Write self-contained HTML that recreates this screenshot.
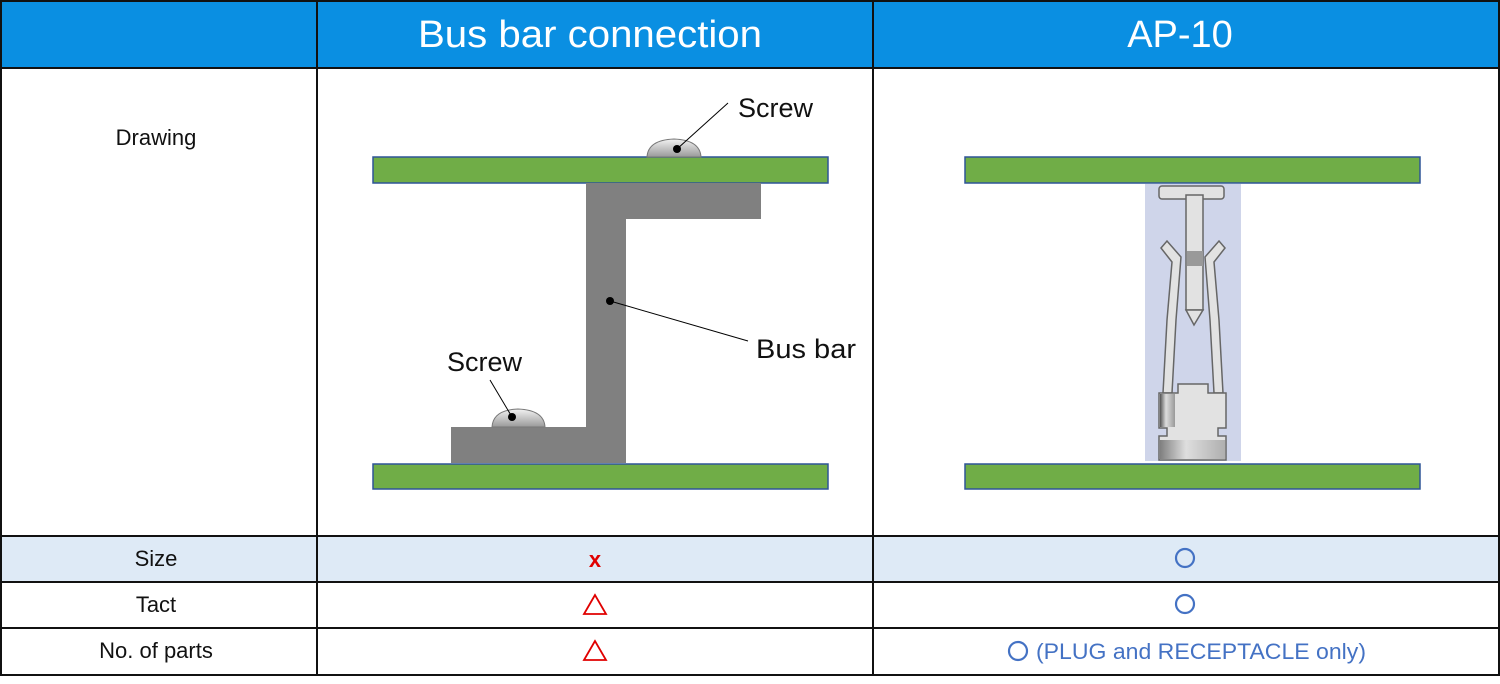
<!DOCTYPE html>
<html><head><meta charset="utf-8"><style>
body{margin:0;background:#fff}
svg{display:block}
text{font-family:"Liberation Sans","DejaVu Sans",sans-serif}
</style></head><body>
<svg width="1500" height="684" viewBox="0 0 1500 684" xmlns="http://www.w3.org/2000/svg">
<defs>
<linearGradient id="scr" x1="0" y1="0" x2="0" y2="1"><stop offset="0" stop-color="#f2f2f2"/><stop offset="1" stop-color="#9a9a9a"/></linearGradient>
<linearGradient id="met" x1="0" y1="0" x2="1" y2="0"><stop offset="0" stop-color="#555"/><stop offset="0.4" stop-color="#ddd"/><stop offset="1" stop-color="#999"/></linearGradient>
</defs>
<rect x="1" y="1" width="1498" height="67" fill="#0a8fe2"/>
<rect x="1" y="537" width="1498" height="45" fill="#deeaf6"/>
<g stroke="#111" stroke-width="2" fill="none">
<rect x="1" y="1" width="1498" height="674"/>
<line x1="317" y1="1" x2="317" y2="675"/>
<line x1="873" y1="1" x2="873" y2="675"/>
<line x1="1" y1="68" x2="1499" y2="68"/>
<line x1="1" y1="536" x2="1499" y2="536"/>
<line x1="1" y1="582" x2="1499" y2="582"/>
<line x1="1" y1="628" x2="1499" y2="628"/>
</g>
<text x="590" y="47" fill="#fff" font-size="38" text-anchor="middle" textLength="344" lengthAdjust="spacingAndGlyphs">Bus bar connection</text>
<text x="1180" y="47" fill="#fff" font-size="38" text-anchor="middle">AP-10</text>
<g font-size="22" fill="#111" text-anchor="middle">
<text x="156" y="145">Drawing</text>
<text x="156" y="566">Size</text>
<text x="156" y="612">Tact</text>
<text x="156" y="658">No. of parts</text>
</g>
<rect x="373" y="157" width="455" height="26" fill="#70ad47" stroke="#2f5597" stroke-width="1.5"/>
<rect x="373" y="464" width="455" height="25" fill="#70ad47" stroke="#2f5597" stroke-width="1.5"/>
<path d="M586 183H761V219H626V463H451V427H586Z" fill="#808080"/>
<path d="M647 157Q648 140 674 139Q700 140 701 157Z" fill="url(#scr)" stroke="#777"/>
<path d="M492 427Q493 410 518 409Q544 410 545 427Z" fill="url(#scr)" stroke="#777"/>
<circle cx="677" cy="149" r="4" fill="#000"/><line x1="677" y1="149" x2="728" y2="103" stroke="#000"/>
<circle cx="512" cy="417" r="4" fill="#000"/><line x1="512" y1="417" x2="490" y2="380" stroke="#000"/>
<circle cx="610" cy="301" r="4" fill="#000"/><line x1="610" y1="301" x2="748" y2="341" stroke="#000"/>
<g font-size="27" fill="#111">
<text x="738" y="117">Screw</text>
<text x="447" y="371">Screw</text>
<text x="756" y="358" textLength="100" lengthAdjust="spacingAndGlyphs">Bus bar</text>
</g>
<rect x="965" y="157" width="455" height="26" fill="#70ad47" stroke="#2f5597" stroke-width="1.5"/>
<rect x="965" y="464" width="455" height="25" fill="#70ad47" stroke="#2f5597" stroke-width="1.5"/>
<rect x="1145" y="184" width="96" height="277" fill="#cfd5ea"/>
<g fill="#e2e2e2" stroke="#666" stroke-width="1.5">
<rect x="1159" y="186" width="65" height="13" rx="3"/>
<rect x="1186" y="195" width="17" height="115"/>
<path d="M1186 310H1203L1194 325Z"/>
<path d="M1161 248L1167 241L1181 257L1176 320L1172 393H1163L1167 320L1172 262Z"/>
<path d="M1225 248L1219 241L1205 257L1210 320L1214 393H1223L1219 320L1214 262Z"/>
<path d="M1159 393H1178V384H1208V393H1226V428H1218V436H1226V460H1159V436H1167V428H1159Z"/>
</g>
<rect x="1187" y="251" width="16" height="15" fill="#999"/>
<rect x="1160" y="394" width="15" height="33" fill="url(#met)"/>
<rect x="1160" y="440" width="65" height="19" fill="url(#met)" opacity="0.7"/>
<text x="595" y="567" font-size="22" font-weight="bold" fill="#e00000" text-anchor="middle">x</text>
<path d="M595 595L584 614H606Z" fill="none" stroke="#e00000" stroke-width="1.8"/>
<path d="M595 641L584 660H606Z" fill="none" stroke="#e00000" stroke-width="1.8"/>
<circle cx="1185" cy="558" r="9" fill="none" stroke="#4472c4" stroke-width="2.2"/>
<circle cx="1185" cy="604" r="9" fill="none" stroke="#4472c4" stroke-width="2.2"/>
<circle cx="1018" cy="651" r="9" fill="none" stroke="#4472c4" stroke-width="2.2"/>
<text x="1036" y="659" font-size="22" fill="#4472c4" textLength="330" lengthAdjust="spacingAndGlyphs">(PLUG and RECEPTACLE only)</text>
</svg>
</body></html>
